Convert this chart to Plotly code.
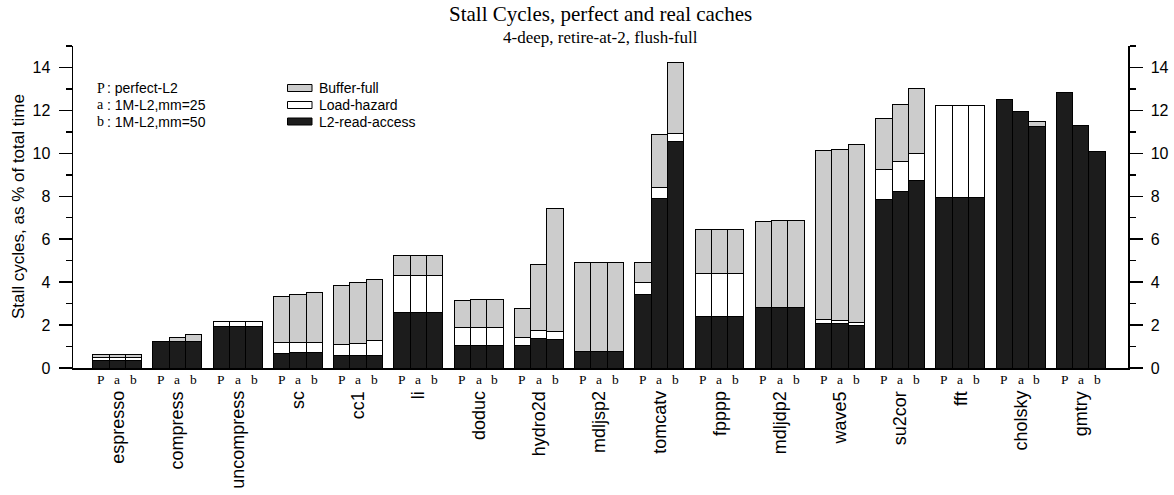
import plotly.graph_objects as go

benchmarks = ["espresso", "compress", "uncompress", "sc", "cc1", "li", "doduc",
              "hydro2d", "mdljsp2", "tomcatv", "fpppp", "mdljdp2", "wave5",
              "su2cor", "fft", "cholsky", "gmtry"]
configs = ["P", "a", "b"]

# stall cycles (% of total time), per benchmark: [P, a, b]
l2_read_access = [
    [0.35, 0.35, 0.35], [1.24, 1.22, 1.22], [1.92, 1.92, 1.92], [0.68, 0.70, 0.72],
    [0.57, 0.57, 0.57], [2.59, 2.59, 2.59], [1.04, 1.04, 1.04], [1.04, 1.37, 1.32],
    [0.76, 0.76, 0.76], [3.43, 7.89, 10.55], [2.40, 2.40, 2.40], [2.84, 2.84, 2.84],
    [2.09, 2.06, 1.97], [7.84, 8.24, 8.72], [7.96, 7.96, 7.96], [12.50, 11.94, 11.25],
    [12.84, 11.30, 10.07]]
load_hazard = [
    [0.13, 0.13, 0.13], [0.0, 0.0, 0.0], [0.25, 0.25, 0.25], [0.53, 0.51, 0.49],
    [0.51, 0.59, 0.73], [1.74, 1.74, 1.74], [0.87, 0.87, 0.87], [0.36, 0.38, 0.40],
    [0.0, 0.0, 0.0], [0.56, 0.52, 0.39], [1.98, 1.98, 1.98], [0.0, 0.0, 0.0],
    [0.15, 0.13, 0.14], [1.41, 1.37, 1.29], [4.27, 4.27, 4.29], [0.0, 0.0, 0.0],
    [0.0, 0.0, 0.0]]
buffer_full = [
    [0.14, 0.14, 0.14], [0.0, 0.19, 0.35], [0.0, 0.0, 0.0], [2.13, 2.20, 2.30],
    [2.77, 2.81, 2.83], [0.90, 0.90, 0.90], [1.24, 1.26, 1.29], [1.36, 3.08, 5.69],
    [4.14, 4.15, 4.16], [0.93, 2.49, 3.31], [2.08, 2.08, 2.08], [3.99, 4.02, 4.04],
    [7.88, 7.98, 8.28], [2.39, 2.65, 3.01], [0.0, 0.0, 0.0], [0.0, 0.0, 0.22],
    [0.0, 0.0, 0.0]]

legend_configs = ["P : perfect-L2", "a : 1M-L2,mm=25", "b : 1M-L2,mm=50"]
y_ticks = [0, 2, 4, 6, 8, 10, 12, 14]

PITCH = 3.69
xs, xlab = [], []
for g, name in enumerate(benchmarks):
    for i, c in enumerate(configs):
        xs.append(g * PITCH + i)
        xlab.append(c)

def flat(series):
    return [v for grp in series for v in grp]

BLACK = "#1c1c1c"
GRAY = "#cccccc"
SANS = "Liberation Sans, Arial, sans-serif"
SERIF = "Liberation Serif, Times New Roman, serif"

fig = go.Figure()
for nm, series, col in [("L2-read-access", l2_read_access, BLACK),
                        ("Load-hazard", load_hazard, "#ffffff"),
                        ("Buffer-full", buffer_full, GRAY)]:
    fig.add_trace(go.Bar(x=xs, y=flat(series), width=1.0, name=nm,
                         marker=dict(color=col, line=dict(color="#000000", width=1)),
                         showlegend=False, hoverinfo="skip"))
# invisible trace to activate the right axis
fig.add_trace(go.Scatter(x=[xs[0]], y=[0], yaxis="y2", mode="markers",
                         marker=dict(opacity=0), showlegend=False, hoverinfo="skip"))

W, H = 1174, 495
L, R, T, B = 73, 46, 46, 127
pw, ph = W - L - R, H - T - B

def px_x(px):
    return (px - L) / pw

def px_y(py):
    return (H - B - py) / ph

def ann(x, y, text, font, xanchor="center", yanchor="middle", **kw):
    d = dict(x=x, y=y, xref="paper", yref="paper", text=text, showarrow=False,
             xanchor=xanchor, yanchor=yanchor, font=font)
    d.update(kw)
    return d

annotations = []
# config labels under each bar
for x, c in zip(xs, xlab):
    annotations.append(dict(x=x, y=0, xref="x", yref="paper", text=c, showarrow=False,
                            xanchor="center", yanchor="middle", yshift=-11,
                            font=dict(family=SERIF, size=13.5, color="#000")))
# benchmark names, vertical
for g, name in enumerate(benchmarks):
    annotations.append(dict(x=g * PITCH + 1, y=0, xref="x", yref="paper", text=name,
                            showarrow=False, textangle=-90, yanchor="top", xanchor="center",
                            yshift=-21, font=dict(family=SANS, size=18, color="#000")))
# titles
annotations.append(ann(px_x(600), px_y(14), "Stall Cycles, perfect and real caches",
                       dict(family=SERIF, size=21, color="#000")))
annotations.append(ann(px_x(600), px_y(37), "4-deep, retire-at-2, flush-full",
                       dict(family=SERIF, size=17, color="#000")))
annotations.append(ann(px_x(18), px_y(207), "Stall cycles, as % of total time",
                       dict(family=SANS, size=17, color="#000"), textangle=-90))
# config legend
rows = [88, 105, 121.5]
for ry, txt in zip(rows, legend_configs):
    letter, rest = txt.split(" ", 1)
    annotations.append(ann(px_x(95), px_y(ry), letter,
                           dict(family=SERIF, size=14, color="#000"), xanchor="left"))
    annotations.append(ann(px_x(105), px_y(ry), rest,
                           dict(family=SANS, size=14, color="#000"), xanchor="left"))
# series legend
shapes = []
for ry, nm, col in zip(rows, ["Buffer-full", "Load-hazard", "L2-read-access"],
                       [GRAY, "#ffffff", BLACK]):
    shapes.append(dict(type="rect", xref="paper", yref="paper",
                       x0=px_x(287.5), x1=px_x(312), y0=px_y(ry + 3.5), y1=px_y(ry - 3.5),
                       fillcolor=col, line=dict(color="#000", width=1)))
    annotations.append(ann(px_x(317), px_y(ry), nm,
                           dict(family=SANS, size=14, color="#000"), xanchor="left"))

yax = dict(range=[0, 15], tickvals=y_ticks, ticks="outside", ticklen=13, tickwidth=1.5,
           tickcolor="#000", showline=True, linecolor="#000", linewidth=1.5,
           showgrid=False, zeroline=False, ticklabelstandoff=5,
           tickfont=dict(family=SANS, size=16, color="#000"),
           minor=dict(dtick=1, tick0=1, ticks="outside", ticklen=6, tickwidth=1.5,
                      tickcolor="#000", showgrid=False))

fig.update_layout(
    width=W, height=H, barmode="stack", bargap=0,
    margin=dict(l=L, r=R, t=T, b=B, autoexpand=False),
    paper_bgcolor="#ffffff", plot_bgcolor="#ffffff",
    xaxis=dict(range=[-1.71, 16 * PITCH + 2.5 + 1.39], showticklabels=False, ticks="",
               showgrid=False, zeroline=False, showline=True, linecolor="#000",
               linewidth=1.5),
    yaxis=yax,
    yaxis2=dict(yax, overlaying="y", side="right", anchor="x"),
    annotations=annotations, shapes=shapes,
)

# remove the default page margin so the figure fills the window exactly
fig.write_html("out.html",
               config={"displayModeBar": False, "staticPlot": True},
               post_script="document.body.style.margin='0';"
                           "document.body.style.overflow='hidden';")
